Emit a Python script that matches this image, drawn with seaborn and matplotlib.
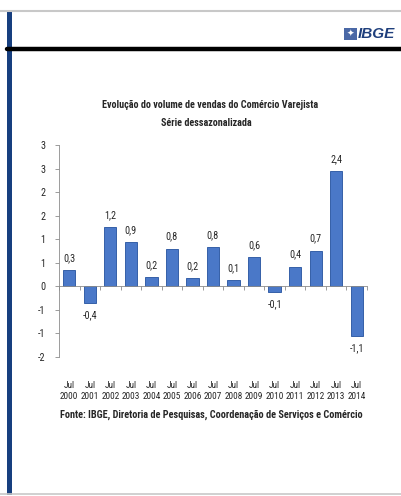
import os
import matplotlib
matplotlib.use("Agg")
import matplotlib.pyplot as plt
import matplotlib.font_manager as fm
import seaborn as sns
import pandas as pd
from matplotlib.lines import Line2D
from matplotlib.patches import Rectangle
from matplotlib.ticker import FixedLocator

# ---- data ----
years = ["2000", "2001", "2002", "2003", "2004", "2005", "2006", "2007",
         "2008", "2009", "2010", "2011", "2012", "2013", "2014"]
values = [0.35, -0.35, 1.25, 0.94, 0.20, 0.80, 0.17, 0.84,
          0.14, 0.62, -0.12, 0.42, 0.76, 2.44, -1.05]
value_labels = ["0,3", "-0,4", "1,2", "0,9", "0,2", "0,8", "0,2", "0,8",
                "0,1", "0,6", "-0,1", "0,4", "0,7", "2,4", "-1,1"]
y_ticks = [3.0, 2.5, 2.0, 1.5, 1.0, 0.5, 0.0, -0.5, -1.0, -1.5]
y_tick_labels = ["3", "3", "2", "2", "1", "1", "0", "-1", "-1", "-2"]
title_lines = ["Evolução do volume de vendas do Comércio Varejista", "Série dessazonalizada"]
source = "Fonte: IBGE, Diretoria de Pesquisas, Coordenação de Serviços e Comércio"

sns.set_theme(style="white")
plt.rcParams["font.family"] = ["Liberation Sans", "DejaVu Sans"]


def find_font(bold):
    pats = ["LiberationSansNarrow", "ArialNarrow", "Arial Narrow", "RobotoCondensed",
            "Roboto_Condensed", "Roboto-Condensed", "OpenSansCondensed",
            "OpenSans_Condensed", "OpenSans-Condensed", "DejaVuSansCondensed"]
    for p in pats:
        for f in fm.fontManager.ttflist:
            fn = os.path.basename(f.fname)
            if p.lower() in fn.lower():
                low = fn.lower()
                if "italic" in low or "oblique" in low:
                    continue
                isbold = "bold" in low
                if isbold == bold and "light" not in low and "semibold" not in low \
                        and "extrabold" not in low and "medium" not in low:
                    return f.fname
    return None


reg_file = find_font(False)
bold_file = find_font(True)


def fp(bold, size):
    f = bold_file if bold else reg_file
    if f:
        return fm.FontProperties(fname=f, size=size)
    return fm.FontProperties(family=["Liberation Sans", "DejaVu Sans"],
                             weight="bold" if bold else "normal", size=size)


W, H = 402, 496
fig = plt.figure(figsize=(W / 100, H / 100), dpi=100)
fig.patch.set_facecolor("white")
renderer = fig.canvas.get_renderer()


def fit_size(text, bold, target_px, base=10.0):
    t = fig.text(0, 0, text, fontproperties=fp(bold, base))
    w = t.get_window_extent(renderer=renderer).width
    t.remove()
    return base * target_px / w


# slide frame
fig.add_artist(Line2D([0, 1], [1 - 11 / H, 1 - 11 / H], color="#c8c8c8", lw=1.5))
fig.add_artist(Line2D([0, 1], [1 - 494 / H, 1 - 494 / H], color="#c8c8c8", lw=1.2))
fig.add_artist(Rectangle((7 / W, 1 - 495 / H), 4.5 / W, (495 - 12) / H,
                         color="#173f7f", lw=0))
fig.add_artist(Line2D([7 / W, 1], [1 - 48.5 / H, 1 - 48.5 / H], color="black", lw=3.2))
# logo
fig.add_artist(Rectangle((344 / W, 1 - 39.5 / H), 13 / W, 11 / H, color="#4a68a6", lw=0))
fig.text(350.5 / W, 1 - 34 / H, "✦", color="white", fontsize=6.5, ha="center", va="center",
         family=["DejaVu Sans"])
fig.text(358 / W, 1 - 34 / H, "IBGE", color="#1f3f7c", fontsize=11, fontweight="bold",
         fontstyle="italic", ha="left", va="center", family=["Liberation Sans", "DejaVu Sans"])

# font sizes fitted to the reference widths
year_size = fit_size("2000", False, 18.0)
val_size = fit_size("0,3", False, 12.0)
title_size = fit_size(title_lines[0], True, 217)
source_size = fit_size(source, True, 303)

ax = fig.add_axes([59 / W, 1 - 357 / H, (367 - 59) / W, (357 - 145) / H])
df = pd.DataFrame({"cat": ["Jul\n" + y for y in years], "val": values})
sns.barplot(data=df, x="cat", y="val", ax=ax, color="#4a78c8", width=0.6,
            edgecolor="#3560a8", linewidth=0.7, saturation=1)
ax.set_ylim(-1.5, 3.0)
ax.set_xlim(-0.5, len(years) - 0.5)
ax.set_xlabel("")
ax.set_ylabel("")

ax.set_yticks(y_ticks)
ax.set_yticklabels(y_tick_labels)
ax.tick_params(axis="y", length=3, width=0.6, color="#8c8c8c", pad=7, left=True)
for t in ax.get_yticklabels():
    t.set_fontproperties(fp(False, val_size))

for s in ["top", "right"]:
    ax.spines[s].set_visible(False)
ax.spines["left"].set_color("#8c8c8c")
ax.spines["left"].set_linewidth(0.6)
ax.spines["bottom"].set_position(("data", 0))
ax.spines["bottom"].set_color("#8c8c8c")
ax.spines["bottom"].set_linewidth(0.6)

ax.tick_params(axis="x", which="major", length=0, pad=68)
for t in ax.get_xticklabels():
    t.set_fontproperties(fp(False, year_size))
    t.set_linespacing(1.35)
ax.xaxis.set_minor_locator(FixedLocator([i - 0.5 for i in range(len(years) + 1)]))
ax.tick_params(axis="x", which="minor", length=3, width=0.6, color="#8c8c8c",
               bottom=True)

for i, (v, lab) in enumerate(zip(values, value_labels)):
    if v >= 0:
        ax.annotate(lab, (i, v), xytext=(0, 5), textcoords="offset points",
                    ha="center", va="bottom", fontproperties=fp(False, val_size))
    else:
        ax.annotate(lab, (i, v), xytext=(0, -5), textcoords="offset points",
                    ha="center", va="top", fontproperties=fp(False, val_size))

fig.text(210 / W, 1 - 105.5 / H, title_lines[0], ha="center", va="center",
         fontproperties=fp(True, title_size))
fig.text(206 / W, 1 - 122.5 / H, title_lines[1], ha="center", va="center",
         fontproperties=fp(True, title_size))
fig.text(211 / W, 1 - 415 / H, source, ha="center", va="center",
         fontproperties=fp(True, source_size))

fig.savefig("out.png", dpi=100)
